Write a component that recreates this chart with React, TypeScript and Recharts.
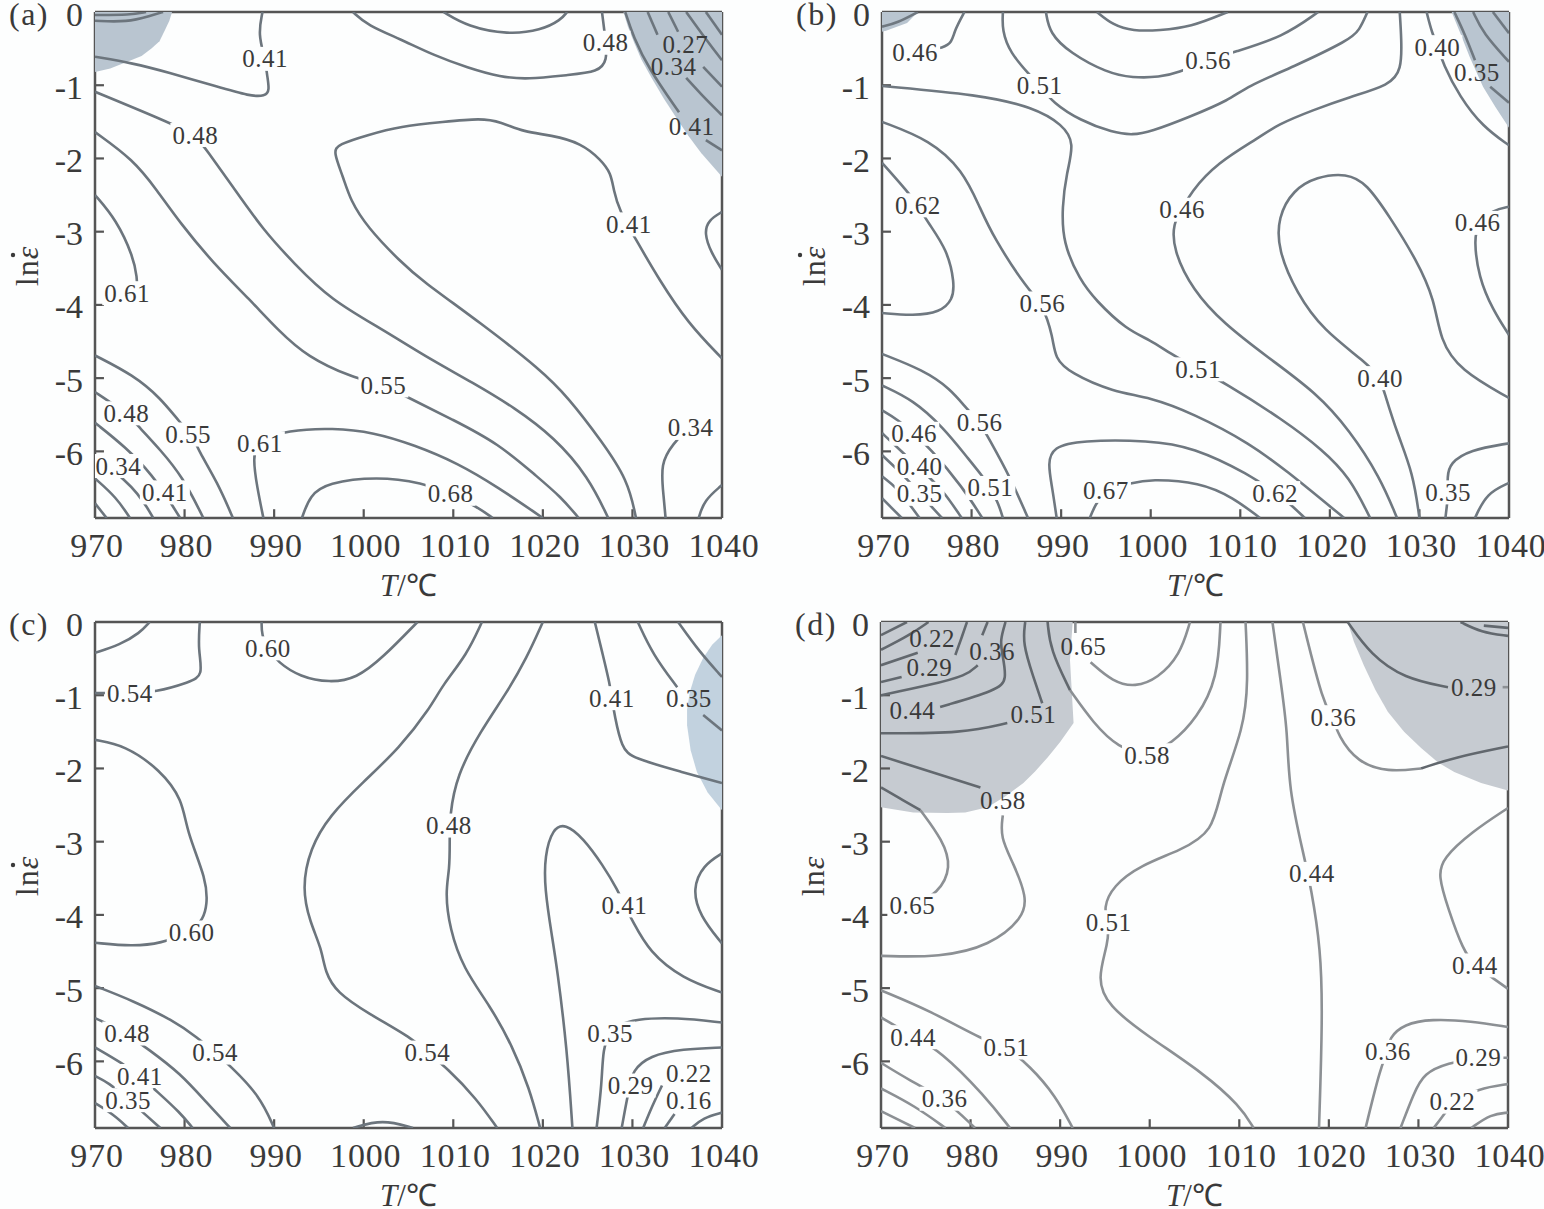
import { ReferenceLine, Scatter, ScatterChart, XAxis, YAxis } from "recharts";

const tempTicks = [970, 980, 990, 1000, 1010, 1020, 1030, 1040];
const rateTicks = [0, -1, -2, -3, -4, -5, -6];

// every curve is a list of [T, ln strain rate]
const aShades = [
  [[970,0],[978.6,0],[978.3,-.12],[977.8,-.25],[977.2,-.4],[976.3,-.5],[975.2,-.6],[973.6,-.68],[971.7,-.77],[970,-.82]],
  [[1029,0],[1029.5,-.2],[1030.2,-.42],[1031,-.65],[1032.1,-.89],[1033.5,-1.18],[1035.1,-1.48],[1036.3,-1.7],[1037.7,-1.93],[1040,-2.25],[1040,0]],
];
const aLines = [
  [[970,-.04],[973.9,-.04],[975.7,0]],
  [[970,-.12],[973.6,-.14],[976.2,-.05],[977.6,0]],
  [[970,-.61],[974.25,-.7],[978.05,-.82],[983.65,-1.02],[987.3,-1.15],[989,-1.15],[989.5,-1.07],[989.2,-.86],[989,-.64],[988.2,-.31],[988.7,0]],
  [[970,-1.09],[978.1,-1.5],[981.2,-1.68],[982.5,-1.89],[985.4,-2.39],[988.8,-2.98],[992.2,-3.43],[996.3,-3.93],[1002.2,-4.34],[1006.7,-4.69],[1012.3,-5.07],[1016.8,-5.4],[1021.3,-5.81],[1025.1,-6.35],[1027.3,-6.91]],
  [[970,-1.64],[974.3,-2.02],[976.9,-2.43],[979.5,-2.88],[983.2,-3.43],[987.3,-3.93],[990.4,-4.34],[993.7,-4.71],[998.7,-4.99],[1002.2,-5.1],[1004.9,-5.26],[1010,-5.57],[1015,-5.89],[1019.4,-6.35],[1022,-6.62],[1024,-6.91]],
  [[970,-2.5],[972.4,-2.84],[974.3,-3.35],[974.7,-3.63],[974.7,-3.8]],
  [[970,-4.69],[974.3,-4.96],[977.3,-5.27],[979.5,-5.61],[981,-5.8],[981.5,-5.98],[983.7,-6.43],[985.4,-6.91]],
  [[970,-5.19],[971.7,-5.33],[973.5,-5.47],[975,-5.68],[977.3,-5.98],[979.8,-6.35],[982.1,-6.91]],
  [[970,-5.61],[973.4,-5.94],[976.4,-6.32],[978.6,-6.73],[979.5,-6.91]],
  [[970,-6.05],[973.6,-6.42],[974.7,-6.57],[975.8,-6.76],[976.5,-6.91]],
  [[970,-6.37],[972.4,-6.63],[973.9,-6.91]],
  [[970,-6.71],[971.3,-6.91]],
  [[1030.4,-6.91],[1029.5,-6.39],[1026.5,-5.85],[1022.8,-5.26],[1019.8,-4.89],[1013.1,-4.25],[1006.4,-3.66],[1004.1,-3.41],[1000.4,-2.94],[998.5,-2.57],[997.7,-2.25],[996.6,-1.91],[997.1,-1.81],[1000.4,-1.68],[1004.1,-1.56],[1008.9,-1.5],[1013.1,-1.45],[1015.3,-1.5],[1017.9,-1.64],[1020.9,-1.68],[1024.3,-1.79],[1026.5,-2.02],[1027.6,-2.2],[1027.9,-2.43],[1028.5,-2.7],[1030.4,-3.11],[1033,-3.66],[1036.2,-4.25],[1040,-4.73]],
  [[998.8,0],[1000.4,-.18],[1004.1,-.37],[1007.8,-.59],[1011.6,-.76],[1015.3,-.89],[1018.3,-.92],[1022.8,-.86],[1026.2,-.82],[1027.2,-.66],[1027,-.38],[1026.6,0]],
  [[1008.9,0],[1011.6,-.2],[1016.1,-.31],[1019.8,-.25],[1022,-.11],[1022.7,0]],
  [[1029.2,0],[1030.1,-.34],[1031.8,-.77],[1035.2,-1.37]],
  [[1038.2,-1.75],[1040,-1.89]],
  [[1031.7,0],[1032.8,-.31]],
  [[1036,-.9],[1037.7,-1.13],[1040,-1.41]],
  [[1034,0],[1035.1,-.27]],
  [[1037.9,-.75],[1040,-1.02]],
  [[1036,0],[1037.7,-.29],[1040,-.66]],
  [[1038.2,0],[1040,-.31]],
  [[1040,-2.73],[1038.5,-2.84],[1038,-3.02],[1038.8,-3.29],[1040,-3.52]],
  [[988.8,-6.91],[988.1,-6.49],[987.6,-6.08],[988.2,-5.85],[991.5,-5.71],[996.6,-5.68],[1001.1,-5.74],[1005.6,-5.91],[1010.5,-6.16],[1015,-6.49],[1020,-6.91]],
  [[993.1,-6.91],[994,-6.6],[995.9,-6.43],[1001.5,-6.34],[1006.6,-6.43],[1009.7,-6.57],[1012.7,-6.76],[1014.4,-6.91]],
  [[1033.7,-6.91],[1033.5,-6.63],[1033.1,-6.16],[1034.6,-5.89],[1036,-5.71]],
  [[1037.4,-6.91],[1038,-6.67],[1040,-6.46]],
];
const aLabels: [number, number, string][] = [
  [989,-.64,"0.41"],[981.2,-1.68,"0.48"],[1027,-.42,"0.48"],[1029.6,-2.9,"0.41"],[973.6,-3.84,"0.61"],[1002.2,-5.1,"0.55"],
  [973.5,-5.48,"0.48"],[980.4,-5.77,"0.55"],[988.4,-5.89,"0.61"],[1036.5,-5.68,"0.34"],[1009.7,-6.58,"0.68"],[972.6,-6.2,"0.34"],[977.8,-6.56,"0.41"],
];
const aBareLabels: [number, number, string][] = [
  [1035.9,-.44,"0.27"],[1034.6,-.74,"0.34"],[1036.6,-1.56,"0.41"],
];

const bShades = [
  [[970,0],[974,0],[972.8,-.15],[970.6,-.25],[970,-.27]],
  [[1033.6,0],[1034.6,-.3],[1035.6,-.61],[1037.1,-1.02],[1038.5,-1.3],[1040,-1.58],[1040,0]],
];
const bLines = [
  [[970,-.2],[971.7,-.15],[974,0]],
  [[979.2,0],[978.1,-.25],[977.8,-.42],[976.8,-.49],[975,-.52]],
  [[983.5,0],[983.4,-.25],[984.3,-.56],[986.5,-.86],[987.6,-1.01],[989.1,-1.24],[992.1,-1.48],[995.8,-1.65],[998,-1.68],[999.9,-1.64],[1004.4,-1.43],[1008.8,-1.2],[1010.7,-1.02],[1015.9,-.75],[1022.2,-.38],[1023.3,-.25],[1024.2,0]],
  [[988.3,0],[988.7,-.29],[991,-.56],[995.1,-.83],[998,-.9],[1001,-.89],[1003,-.83],[1006.4,-.66],[1009.2,-.55],[1014.8,-.34],[1018.7,0]],
  [[994,0],[995.8,-.18],[998,-.26],[1001,-.25],[1004.4,-.21],[1008.6,0]],
  [[970,-1.01],[980.9,-1.13],[986.9,-1.3],[990.2,-1.54],[991.5,-1.79],[990.6,-2.2],[990.1,-2.66],[990.2,-3.16],[992.1,-3.66],[993.8,-3.93],[997.3,-4.34],[1000,-4.48],[1002.1,-4.66],[1005.3,-4.88],[1008.1,-5.05],[1014.8,-5.57],[1019.2,-5.98],[1022.2,-6.35],[1024.5,-6.91]],
  [[970,-1.5],[975.4,-1.75],[979,-2.16],[980.9,-2.66],[982.4,-3.07],[986.3,-3.8],[987.9,-3.98],[989.1,-4.44],[989.3,-4.73],[991,-4.93],[995.8,-5.19],[999.9,-5.26],[1004.7,-5.48],[1011.1,-5.89],[1015.5,-6.3],[1019.2,-6.67],[1021.6,-6.91]],
  [[970,-2.06],[972.9,-2.46],[974,-2.64],[975.1,-2.87],[977.3,-3.25],[978.1,-3.7],[977.9,-3.93],[976.5,-4.1],[973.5,-4.15],[970,-4.11]],
  [[970,-4.67],[974.6,-4.89],[977.6,-5.14],[979.6,-5.44],[980.9,-5.6],[981.9,-5.82],[984.3,-6.35],[986.3,-6.91]],
  [[970,-5.1],[973.5,-5.3],[976.8,-5.67],[979.5,-6.08],[981.3,-6.35],[982.1,-6.5],[983,-6.71],[983.5,-6.91]],
  [[970,-5.44],[971.8,-5.57],[973.5,-5.75],[975.4,-5.96],[979,-6.49],[981.2,-6.91]],
  [[970,-5.75],[972,-5.98],[974.8,-6.3],[976.8,-6.53],[978.9,-6.91]],
  [[970,-6.05],[972.8,-6.37],[975.7,-6.78],[976.7,-6.91]],
  [[970,-6.34],[971.7,-6.5],[973.3,-6.76],[974.2,-6.91]],
  [[970,-6.64],[972.2,-6.91]],
  [[989.5,-6.91],[989,-6.49],[988.5,-6.16],[989.1,-5.94],[992.1,-5.85],[999.9,-5.85],[1004.7,-5.94],[1011.1,-6.32],[1013.9,-6.57],[1015.5,-6.71],[1017.2,-6.91]],
  [[993.2,-6.91],[993.8,-6.73],[994.9,-6.54],[997.9,-6.43],[999.9,-6.38],[1005.5,-6.42],[1009.2,-6.63],[1012.2,-6.91]],
  [[1027.8,0],[1028,-.38],[1028,-.79],[1026.7,-1],[1022.2,-1.16],[1018.1,-1.34],[1014.1,-1.54],[1012.2,-1.71],[1007.4,-2.06],[1004.4,-2.47],[1003.5,-2.7],[1002.5,-2.88],[1002.5,-3.25],[1004.7,-3.8],[1008.1,-4.25],[1013,-4.71],[1018.5,-5.2],[1022.2,-5.71],[1025.6,-6.35],[1027.5,-6.91]],
  [[1030,-6.91],[1029.3,-6.3],[1027.5,-5.75],[1026.1,-5.2],[1025.6,-5],[1024.1,-4.79],[1019.2,-4.34],[1016.3,-3.84],[1014.2,-3.25],[1014.2,-2.8],[1015.9,-2.43],[1018.5,-2.25],[1021.9,-2.2],[1024.1,-2.34],[1026.7,-2.8],[1029.7,-3.39],[1031.7,-3.93],[1032.3,-4.48],[1034.5,-4.89],[1040,-5.27]],
  [[1030.8,0],[1031.4,-.29],[1032.1,-.48],[1032.6,-.7],[1034.5,-1.16],[1037.1,-1.57],[1040,-1.82]],
  [[1033.9,0],[1035.1,-.31],[1036.2,-.66]],
  [[1037.9,-1.02],[1040,-1.24]],
  [[1036,0],[1037.1,-.29],[1040,-.68]],
  [[1038.2,0],[1040,-.29]],
  [[1040,-2.66],[1038.2,-2.7],[1036.5,-2.9],[1036.1,-3.11],[1036.6,-3.62],[1038.2,-4.07],[1040,-4.41]],
  [[1040,-5.89],[1035.6,-5.98],[1033.4,-6.16],[1033.1,-6.35],[1033.2,-6.57],[1033.1,-6.71],[1032.9,-6.91]],
  [[1040,-6.43],[1037.5,-6.57],[1036.2,-6.91]],
];
const bLabels: [number, number, string][] = [
  [973.7,-.55,"0.46"],[987.6,-1.01,"0.51"],[1006.4,-.66,"0.56"],[1032,-.48,"0.40"],[974,-2.64,"0.62"],[1003.5,-2.7,"0.46"],
  [1036.5,-2.88,"0.46"],[987.9,-3.98,"0.56"],[1005.3,-4.88,"0.51"],[1025.6,-5,"0.40"],[980.9,-5.6,"0.56"],[973.6,-5.76,"0.46"],
  [974.2,-6.2,"0.40"],[974.2,-6.58,"0.35"],[982.1,-6.5,"0.51"],[995,-6.54,"0.67"],[1013.9,-6.57,"0.62"],[1033.2,-6.56,"0.35"],
];
const bBareLabels: [number, number, string][] = [[1036.4,-.82,"0.35"]];

const cShades = [
  [[1040,-.18],[1038.9,-.31],[1037.9,-.49],[1037,-.72],[1036.4,-.96],[1036.1,-1.2],[1036.1,-1.41],[1036.5,-1.75],[1037.2,-2.05],[1038.4,-2.33],[1040,-2.57]],
];
const cLines = [
  [[970,-.42],[972.8,-.31],[975,-.15],[976.1,0]],
  [[981.7,0],[981.5,-.38],[982.1,-.73],[980.6,-.82],[976.7,-.96],[973.9,-.97],[970,-.97]],
  [[988.6,0],[988.6,-.18],[989.3,-.36],[990.4,-.55],[992.9,-.75],[996.2,-.83],[999.2,-.77],[1002.1,-.49],[1006,0]],
  [[1013.2,0],[1011.5,-.45],[1008.8,-.86],[1007.4,-1.18],[1004,-1.72],[999.9,-2.19],[996.2,-2.64],[994,-3.09],[993.1,-3.64],[994,-4.1],[995.3,-4.46],[995.7,-4.79],[997,-5.06],[1000.4,-5.34],[1005.5,-5.69],[1007.1,-5.88],[1009.3,-6.09],[1012.6,-6.51],[1014.9,-6.91]],
  [[1020,0],[1018.2,-.49],[1016,-.96],[1013,-1.5],[1010.4,-2.09],[1009.6,-2.64],[1009.6,-3.01],[1009.6,-3.37],[1009.1,-3.69],[1009.6,-4.19],[1011.1,-4.73],[1014.1,-5.24],[1016.6,-5.79],[1018.5,-6.37],[1019.7,-6.91]],
  [[1023.3,-6.91],[1022.7,-5.83],[1021.6,-4.73],[1021,-4.28],[1020.2,-3.64],[1020.2,-3.19],[1021.1,-2.82],[1022.5,-2.75],[1024.5,-2.95],[1026.7,-3.32],[1028.4,-3.67],[1029.1,-3.87],[1030,-4.08],[1031.9,-4.51],[1035.6,-4.87],[1040,-5.06]],
  [[1025.8,0],[1026.7,-.45],[1027.5,-.86],[1027.7,-1.04],[1028,-1.27],[1028.8,-1.72],[1030,-1.86],[1035.6,-2.05],[1040,-2.2]],
  [[1030.6,0],[1032.3,-.45],[1035,-.89]],
  [[1037.9,-1.27],[1040,-1.48]],
  [[1035.1,0],[1037.5,-.41],[1040,-.75]],
  [[1040,-3.16],[1037.9,-3.32],[1036.7,-3.64],[1037.5,-4.01],[1040,-4.39]],
  [[1040,-5.47],[1035,-5.4],[1030.3,-5.42],[1028.3,-5.51],[1027.5,-5.62],[1026.7,-5.81],[1026.6,-6.29],[1026,-6.91]],
  [[1040,-5.81],[1035.6,-5.83],[1031.9,-5.92],[1030,-6.13],[1029.7,-6.34],[1029.4,-6.51],[1028.8,-6.91]],
  [[1033.3,-6.33],[1032.2,-6.61],[1031.2,-6.91]],
  [[1034.7,-6.72],[1033.6,-6.91]],
  [[1040,-6.7],[1037.9,-6.77],[1036.6,-6.91]],
  [[998.8,-6.91],[1002.1,-6.79],[1005.5,-6.91]],
  [[970,-1.61],[973.3,-1.68],[977.3,-2.02],[979.8,-2.43],[980.2,-2.85],[982.5,-3.53],[982.5,-3.87],[982.1,-4.05],[980.8,-4.24],[977.3,-4.39],[974.2,-4.43],[970,-4.38]],
  [[970,-4.97],[974.2,-5.17],[978.7,-5.44],[981.5,-5.68],[983.4,-5.88],[985.1,-6.06],[988.4,-6.47],[990,-6.91]],
  [[970,-5.41],[971.1,-5.47],[973.5,-5.62],[975.9,-5.83],[979.5,-6.16],[982.5,-6.57],[985.1,-6.91]],
  [[970,-5.81],[973.1,-6.03],[975,-6.2],[977,-6.42],[979.5,-6.7],[980.9,-6.91]],
  [[970,-6.2],[971.5,-6.29],[973.6,-6.51],[975.2,-6.68],[977.3,-6.91]],
  [[970,-6.57],[972,-6.72],[973.7,-6.91]],
];
const cLabels: [number, number, string][] = [
  [973.9,-.97,"0.54"],[989.3,-.36,"0.60"],[1027.7,-1.04,"0.41"],[1009.5,-2.78,"0.48"],[1029.1,-3.87,"0.41"],[980.8,-4.24,"0.60"],
  [973.6,-5.62,"0.48"],[983.4,-5.88,"0.54"],[1007.1,-5.88,"0.54"],[1027.5,-5.62,"0.35"],[975,-6.2,"0.41"],[973.7,-6.53,"0.35"],
  [1029.8,-6.33,"0.29"],[1036.3,-6.17,"0.22"],[1036.3,-6.53,"0.16"],
];
const cBareLabels: [number, number, string][] = [[1036.3,-1.04,"0.35"]];

const dShades = [
  [[970,0],[991.4,0],[991.1,-.52],[991.5,-1.38],[990,-1.64],[988.6,-1.85],[987.2,-2.04],[985.9,-2.2],[983.9,-2.38],[981.9,-2.53],[979.4,-2.6],[977.4,-2.61],[973.6,-2.6],[970,-2.53]],
  [[1022.1,0],[1022.8,-.27],[1023.9,-.59],[1025.2,-.93],[1026.6,-1.23],[1028.4,-1.5],[1030.3,-1.72],[1032.2,-1.92],[1034,-2.05],[1037,-2.2],[1040,-2.3],[1040,0]],
];
// the curves that run over the grey patches are printed darker
const dDarkLines = [
  [[970,-.18],[972.9,0]],
  [[970,-.38],[973.2,-.18],[975.3,0]],
  [[970,-.59],[974.1,-.42]],
  [[970,-.82],[972.3,-.75]],
  [[978.3,-.45],[979.1,-.18],[979.6,0]],
  [[970,-1],[975.5,-.86],[979.6,-.73],[980.8,-.59]],
  [[981.3,-.18],[981.9,0]],
  [[976.6,-1.16],[983,-.93],[984.1,-.79],[983.5,-.42],[983.3,-.25],[983.9,0]],
  [[970,-1.52],[979.2,-1.52],[984.1,-1.38]],
  [[988,-1.11],[987,-.75],[985.8,-.29],[986.1,0]],
  [[970,-1.83],[981.1,-2.26]],
  [[970,-2.26],[972,-2.4],[974.4,-2.57]],
  [[988.6,0],[988.9,-.38],[991.1,-.93]],
  [[1022.1,0],[1024.7,-.45],[1028.4,-.77],[1033.3,-.89]],
  [[1034.7,0],[1037,-.14],[1040,-.19]],
  [[1037.3,-.05],[1040,-.08]],
  [[1030.3,-2],[1034,-1.85],[1040,-1.7]],
];
const dLines = [
  [[983.6,-2.64],[983.3,-2.94],[984.8,-3.3],[986.3,-3.76],[985.9,-4.04],[982.2,-4.42],[976.6,-4.58],[970,-4.56]],
  [[974.4,-2.57],[976.9,-2.98],[977.9,-3.35],[976.4,-3.71],[973.5,-3.87]],
  [[991.1,-.93],[993.7,-1.38],[996.5,-1.72],[999.7,-1.82],[1002.5,-1.66],[1005.3,-1.31],[1007.6,-.77],[1007.9,0]],
  [[991.7,0],[991.7,-.15]],
  [[993.4,-.55],[995.9,-.82],[998.4,-.89],[1000.9,-.77],[1003.4,-.45],[1004.5,0]],
  [[1010.7,0],[1011,-.82],[1010.5,-1.45],[1007.9,-2.27],[1007.1,-2.87],[1003.4,-3.12],[999,-3.32],[995.9,-3.6],[994.8,-3.91],[995.4,-4.1],[995.4,-4.38],[994.1,-4.87],[995.3,-5.24],[999.7,-5.65],[1006,-6.16],[1010.1,-6.61],[1011.6,-6.91]],
  [[1013.7,0],[1014.6,-.79],[1015.4,-1.5],[1015.5,-2.27],[1017.2,-3.19],[1018,-3.62],[1019.1,-4.46],[1019.3,-5.38],[1018.9,-6.91]],
  [[1017.1,0],[1019.4,-1.13],[1020.5,-1.3],[1021,-1.55],[1023.2,-1.92],[1026.6,-2.05],[1030.3,-2]],
  [[1039.4,-.89],[1040,-.89]],
  [[1040,-2.54],[1035.9,-2.87],[1032.7,-3.23],[1032.2,-3.46],[1033.3,-3.91],[1035,-4.49],[1036.3,-4.69],[1038.4,-4.87],[1040,-5.01]],
  [[1040,-5.53],[1035.9,-5.45],[1031.4,-5.42],[1028.4,-5.49],[1026.7,-5.68],[1026.6,-5.87],[1025.8,-6.06],[1024.1,-6.91]],
  [[1040,-5.95],[1036.6,-5.95],[1033.3,-6.02],[1030.6,-6.16],[1029.5,-6.43],[1028,-6.91]],
  [[1040,-6.31],[1036.7,-6.37],[1033.8,-6.55],[1032.8,-6.74],[1031.7,-6.91]],
  [[1040,-6.7],[1038.1,-6.72],[1035.9,-6.91]],
  [[970,-5.03],[975.5,-5.31],[981.6,-5.72],[984,-5.81],[986.6,-6.06],[989.5,-6.47],[991.4,-6.91]],
  [[970,-5.4],[973.6,-5.66],[976.6,-5.85],[981.6,-6.47],[984.4,-6.91]],
  [[970,-6.02],[973.2,-6.26],[977.1,-6.51],[980.5,-6.91]],
  [[970,-6.37],[973.8,-6.61],[977.2,-6.91]],
  [[970,-6.68],[973.8,-6.91]],
];
const dLabels: [number, number, string][] = [
  [999.7,-1.82,"0.58"],[1020.5,-1.3,"0.36"],[973.5,-3.87,"0.65"],[995.4,-4.1,"0.51"],[1018.1,-3.44,"0.44"],[1036.3,-4.69,"0.44"],
  [973.6,-5.67,"0.44"],[984,-5.81,"0.51"],[977.1,-6.51,"0.36"],[1026.6,-5.87,"0.36"],[1036.7,-5.95,"0.29"],[1033.8,-6.55,"0.22"],
];
const dBareLabels: [number, number, string][] = [
  [975.7,-.23,"0.22"],[982.4,-.4,"0.36"],[975.4,-.62,"0.29"],[973.5,-1.21,"0.44"],[987,-1.27,"0.51"],[992.6,-.34,"0.65"],[983.6,-2.44,"0.58"],[1036.2,-.89,"0.29"],
];

const FONT = "'Liberation Serif', 'Times New Roman', serif";
const INK = "#3a3a3a";
const AXIS = "#555";
// inward tick length, in axis units
const TICK_T = 1;
const TICK_E = 0.12;

const toPoints = (line: number[][]) => line.map(([t, e]) => ({ t, e }));
const toMarks = (marks: [number, number, string][]) => marks.map(([t, e, text]) => ({ t, e, text }));
const tickMarks = [
  ...tempTicks.slice(1, -1).map((t) => [[t, -6.91], [t, -6.91 + TICK_E]]),
  ...rateTicks.slice(1).map((e) => [[970, e], [970 + TICK_T, e]]),
];
const NoDot = () => null;

function ContourText(props: any) {
  const text = props.text ?? props.payload?.text;
  return (
    <g>
      {props.plate && <rect x={props.cx - 25} y={props.cy - 12} width={50} height={24} fill="#fdfefe" />}
      <text x={props.cx} y={props.cy + 8.5} textAnchor="middle" fontFamily={FONT} fontSize={25} letterSpacing={0.5} fill={INK}>{text}</text>
    </g>
  );
}

function XTitle({ viewBox }: any) {
  return (
    <text x={viewBox.x + viewBox.width / 2} y={viewBox.y + 78} textAnchor="middle" fontFamily={FONT} fontSize={31} fill={INK}>
      <tspan fontStyle="italic">T</tspan>/℃
    </text>
  );
}

function YTitle({ viewBox, dotted }: any) {
  const x = viewBox.x + viewBox.width - 57;
  const y = viewBox.y + viewBox.height / 2 + 1;
  return (
    <g transform={`translate(${x} ${y}) rotate(-90)`}>
      <text textAnchor="middle" fontFamily={FONT} fontSize={32} letterSpacing={1} fill={INK}>
        ln<tspan fontStyle="italic">ε</tspan>
      </text>
      {dotted && <circle cx={11} cy={-25} r={2.2} fill={INK} />}
    </g>
  );
}

function Panel({ tag, left, top, shades, shade, lines, darkLines = [], lineColor, labels, bareLabels, dotted = true }: any) {
  return (
    <div style={{ position: "absolute", left, top, width: 770, height: 600 }}>
      <div style={{ position: "absolute", left: 9, top: -4, fontFamily: FONT, fontSize: 32, letterSpacing: 1.5, color: INK }}>{tag}</div>
      <ScatterChart width={770} height={600} margin={{ top: 12, right: 48, bottom: 22, left: 0 }}>
        <XAxis
          type="number"
          dataKey="t"
          domain={[970, 1040]}
          ticks={tempTicks}
          interval={0}
          height={60}
          allowDataOverflow
          stroke={AXIS}
          strokeWidth={2.5}
          tickLine={false}
          tickSize={0}
          tickMargin={15}
          tick={{ fontFamily: FONT, fontSize: 34, fill: INK, letterSpacing: 0.8, dx: 2 }}
          label={{ content: (p: any) => <XTitle {...p} /> }}
        />
        <YAxis
          type="number"
          dataKey="e"
          domain={[-6.91, 0]}
          ticks={rateTicks}
          interval={0}
          width={95}
          allowDataOverflow
          stroke={AXIS}
          strokeWidth={2.5}
          tickLine={false}
          tickSize={0}
          tickMargin={12}
          tick={{ fontFamily: FONT, fontSize: 34, fill: INK, dy: 1.5 }}
          label={{ content: (p: any) => <YTitle {...p} dotted={dotted} /> }}
        />
        {shades.map((s: number[][], i: number) => (
          <Scatter key={`s${i}`} data={toPoints(s)} shape={NoDot} isAnimationActive={false} line={{ fill: shade, stroke: "none" }} lineJointType="linear" />
        ))}
        {tickMarks.map((m, i) => (
          <Scatter key={`t${i}`} data={toPoints(m)} shape={NoDot} isAnimationActive={false} line={{ stroke: AXIS, strokeWidth: 2.2 }} lineJointType="linear" />
        ))}
        {lines.map((l: number[][], i: number) => (
          <Scatter key={`l${i}`} data={toPoints(l)} shape={NoDot} isAnimationActive={false} line={{ stroke: lineColor, strokeWidth: 2.6 }} lineJointType="basis" />
        ))}
        {darkLines.map((l: number[][], i: number) => (
          <Scatter key={`d${i}`} data={toPoints(l)} shape={NoDot} isAnimationActive={false} line={{ stroke: "#62686e", strokeWidth: 2.6 }} lineJointType="basis" />
        ))}
        <Scatter data={toMarks(labels)} isAnimationActive={false} shape={(p: any) => <ContourText {...p} plate />} />
        <Scatter data={toMarks(bareLabels)} isAnimationActive={false} shape={(p: any) => <ContourText {...p} />} />
        <ReferenceLine y={0} stroke={AXIS} strokeWidth={2.5} />
        <ReferenceLine x={1040} stroke={AXIS} strokeWidth={2.5} />
      </ScatterChart>
    </div>
  );
}

export default function App() {
  return (
    <div style={{ position: "absolute", left: 0, top: 0, width: 1544, height: 1209, overflow: "hidden", background: "#fdfefe" }}>
      <Panel tag="(a)" left={0} top={0} shades={aShades} shade="#b9c5d0" lines={aLines} lineColor="#6c757d" labels={aLabels} bareLabels={aBareLabels} />
      <Panel tag="(b)" left={787} top={0} shades={bShades} shade="#b9c5d0" lines={bLines} lineColor="#6f7880" labels={bLabels} bareLabels={bBareLabels} />
      <Panel tag="(c)" left={0} top={610} shades={cShades} shade="#c2d2df" lines={cLines} lineColor="#6c757d" labels={cLabels} bareLabels={cBareLabels} />
      <Panel tag="(d)" left={786} top={610} shades={dShades} shade="#c6cbd1" lines={dLines} darkLines={dDarkLines} lineColor="#8c9094" labels={dLabels} bareLabels={dBareLabels} dotted={false} />
    </div>
  );
}
